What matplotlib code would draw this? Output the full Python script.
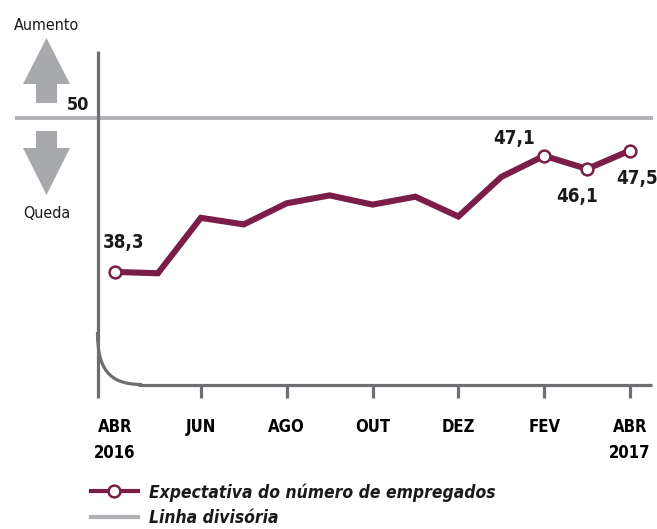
import matplotlib
matplotlib.use("Agg")
import matplotlib.pyplot as plt
import matplotlib.transforms as mtransforms
from matplotlib.patches import FancyArrow, PathPatch
from matplotlib.path import Path
from matplotlib.lines import Line2D

# -------- Data --------
months = ["ABR", "MAI", "JUN", "JUL", "AGO", "SET", "OUT", "NOV", "DEZ", "JAN", "FEV", "MAR", "ABR"]
values = [38.3, 38.2, 42.4, 41.9, 43.5, 44.1, 43.4, 44.0, 42.5, 45.5, 47.1, 46.1, 47.5]
tick_pos = [0, 2, 4, 6, 8, 10, 12]
tick_labels = ["ABR\n2016", "JUN", "AGO", "OUT", "DEZ", "FEV", "ABR\n2017"]
highlight = {0: "38,3", 10: "47,1", 11: "46,1", 12: "47,5"}
divider = 50

PURPLE = "#7b1e47"
LIGHT = "#b0b2b5"
DARK = "#6d6e71"
ARROW = "#a7a9ac"
FONT = ["DejaVu Sans"]
plt.rcParams["font.stretch"] = "condensed"

fig = plt.figure(figsize=(6.57, 5.29), dpi=100)
ax = fig.add_axes([0, 0, 1, 1])

# pixel layout of the plot (x: month index, y: value)
x0, dx = 115, 42.92
y50, dy = 117.5, 13.2
ax.set_xlim(-x0 / dx, (657 - x0) / dx)
ax.set_ylim(divider - (529 - y50) / dy, divider + y50 / dy)

# pixel space, origin top-left
P = mtransforms.Affine2D().scale(1 / 657, -1 / 529).translate(0, 1) + fig.transFigure

def xd(px):
    return (px - x0) / dx

def yd(py):
    return divider - (py - y50) / dy

# -------- Axes --------
for s in ["top", "right"]:
    ax.spines[s].set_visible(False)
ax.spines["left"].set_position(("data", xd(97.5)))
ax.spines["left"].set_bounds(yd(398), yd(51))
ax.spines["bottom"].set_position(("data", yd(384.5)))
ax.spines["bottom"].set_bounds(xd(138), xd(652))
for s in ["left", "bottom"]:
    ax.spines[s].set_color(DARK)
    ax.spines[s].set_linewidth(2.3)
    ax.spines[s].set_capstyle("butt")
ax.set_yticks([])
ax.set_xticks(tick_pos)
ax.set_xticklabels(tick_labels, family=FONT, fontstretch="condensed", fontweight="bold", fontsize=12)
ax.tick_params(axis="x", direction="out", length=9, width=2.3, color=DARK, pad=15)
ax.xaxis.get_major_ticks()[0].tick1line.set_visible(False)
for lab in ax.get_xticklabels():
    lab.set_linespacing(1.6)

# axis break curve
curve = Path([(97.5, 332), (97.5, 368), (108, 384.5), (142, 384.5)],
             [Path.MOVETO, Path.CURVE4, Path.CURVE4, Path.CURVE4])
ax.add_patch(PathPatch(curve, transform=P, fill=False, ec=DARK, lw=2.3))

# divider line
ax.plot([xd(15), xd(653)], [divider, divider], color=LIGHT, lw=2.8, solid_capstyle="butt")

# -------- Series --------
x = list(range(len(values)))
ax.plot(x, values, color=PURPLE, lw=4.4, solid_joinstyle="miter", zorder=3)
hx = list(highlight.keys())
ax.plot(hx, [values[i] for i in hx], "o", ms=8.5, mfc="white", mec=PURPLE, mew=1.8, zorder=4)

label_off = {0: (9, -29), 10: (-30, -17), 11: (-10, 28), 12: (7, 28)}
for i, txt in highlight.items():
    ox, oy = label_off[i]
    ax.annotate(txt, (i, values[i]), xytext=(ox * 0.72, -oy * 0.72), textcoords="offset points",
                ha="center", va="center", family=FONT, fontstretch="condensed",
                fontweight="bold", fontsize=13.5, color="#1a1a1a")

# -------- Left side arrows --------
ax.add_patch(FancyArrow(46.5, 103, 0, -65, width=21, head_width=47, head_length=46,
                        length_includes_head=True, transform=P, color=ARROW, lw=0))
ax.add_patch(FancyArrow(46.5, 131, 0, 64, width=21, head_width=47, head_length=47,
                        length_includes_head=True, transform=P, color=ARROW, lw=0))
ax.text(47, 25, "Aumento", transform=P, ha="center", va="center", family=FONT,
        fontstretch="condensed", fontsize=11.5, color="#1a1a1a")
ax.text(47, 214, "Queda", transform=P, ha="center", va="center", family=FONT,
        fontstretch="condensed", fontsize=11.5, color="#1a1a1a")
ax.text(89, 105, "50", transform=P, ha="right", va="center", family=FONT, fontstretch="condensed",
        fontweight="bold", fontsize=13, color="#1a1a1a")

# -------- Legend --------
handles = [
    Line2D([], [], color=PURPLE, lw=3, marker="o", ms=8.5, mfc="white", mec=PURPLE, mew=1.8),
    Line2D([], [], color=LIGHT, lw=3),
]
labels = ["Expectativa do número de empregados", "Linha divisória"]
leg = ax.legend(handles, labels, loc="upper left", bbox_to_anchor=(91, 483), bbox_transform=P,
                frameon=False, handlelength=2.7, handletextpad=0.65, labelspacing=0.45,
                borderpad=0, borderaxespad=0,
                prop={"family": FONT, "stretch": "condensed", "weight": "bold", "style": "italic", "size": 12.5})
for t in leg.get_texts():
    t.set_color("#1a1a1a")

fig.savefig("out.png", dpi=100)
